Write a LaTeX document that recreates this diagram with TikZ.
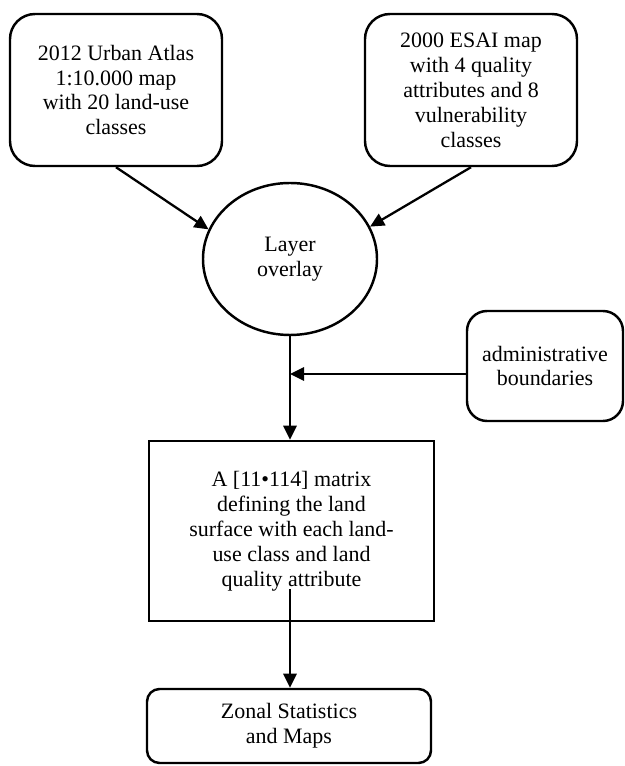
\documentclass[tikz,border=0pt]{standalone}
\usepackage{fontspec}
\setmainfont{Liberation Serif}
\usetikzlibrary{arrows.meta,shapes.geometric}

\begin{document}
\begin{tikzpicture}[
    every node/.style={font=\fontsize{12.5}{14.2}\selectfont, align=center},
    roundbox/.style={draw, line width=1.4pt, rounded corners=0.5cm, minimum width=4.24cm, minimum height=3.04cm},
    ovalnode/.style={draw, ellipse, line width=1.4pt, minimum width=3.48cm, minimum height=3.04cm},
    squarebox/.style={draw, line width=1.4pt, minimum width=5.7cm, minimum height=3.6cm},
    flow/.style={-{Triangle[length=8pt,width=7.5pt]}, line width=1.3pt}
]
    \useasboundingbox (0,0) rectangle (12.5,15.32);

    % Input maps
    \node[roundbox] (atlas) at (2.32,13.52) {2012 Urban Atlas\\1:10.000 map\\with 20 land-use\\classes};
    \node[roundbox] (esai) at (9.42,13.52) {2000 ESAI map\\with 4 quality\\attributes and 8\\vulnerability\\classes};

    % Overlay
    \node[ovalnode] (overlay) at (5.8,10.14) {Layer\\overlay};
    \node[roundbox, rounded corners=0.4cm, minimum width=3.12cm, minimum height=2.2cm] (admin) at (10.9,8.0) {administrative\\boundaries};

    % Results
    \node[squarebox] (mtx) at (5.83,4.7) {A [11\textbullet114] matrix\\defining the land\\surface with each land-\\use class and land\\quality attribute};
    \node[roundbox, rounded corners=0.25cm, minimum width=5.68cm, minimum height=1.48cm] (zonal) at (5.78,0.8) {Zonal Statistics\\and Maps};

    % Arrows
    \draw[flow] (atlas.south) -- (overlay.160);
    \draw[flow] (esai.south) -- (overlay.22);
    \draw[flow] (overlay.south) -- (overlay.south |- mtx.north);
    \coordinate (tap) at ([yshift=-0.16cm]admin.west);
    \draw[flow] (tap) -- (tap -| overlay.south);
    \coordinate (mstart) at ([xshift=-0.03cm,yshift=0.66cm]mtx.south);
    \draw[flow] (mstart) -- (mstart |- zonal.north);
\end{tikzpicture}
\end{document}
